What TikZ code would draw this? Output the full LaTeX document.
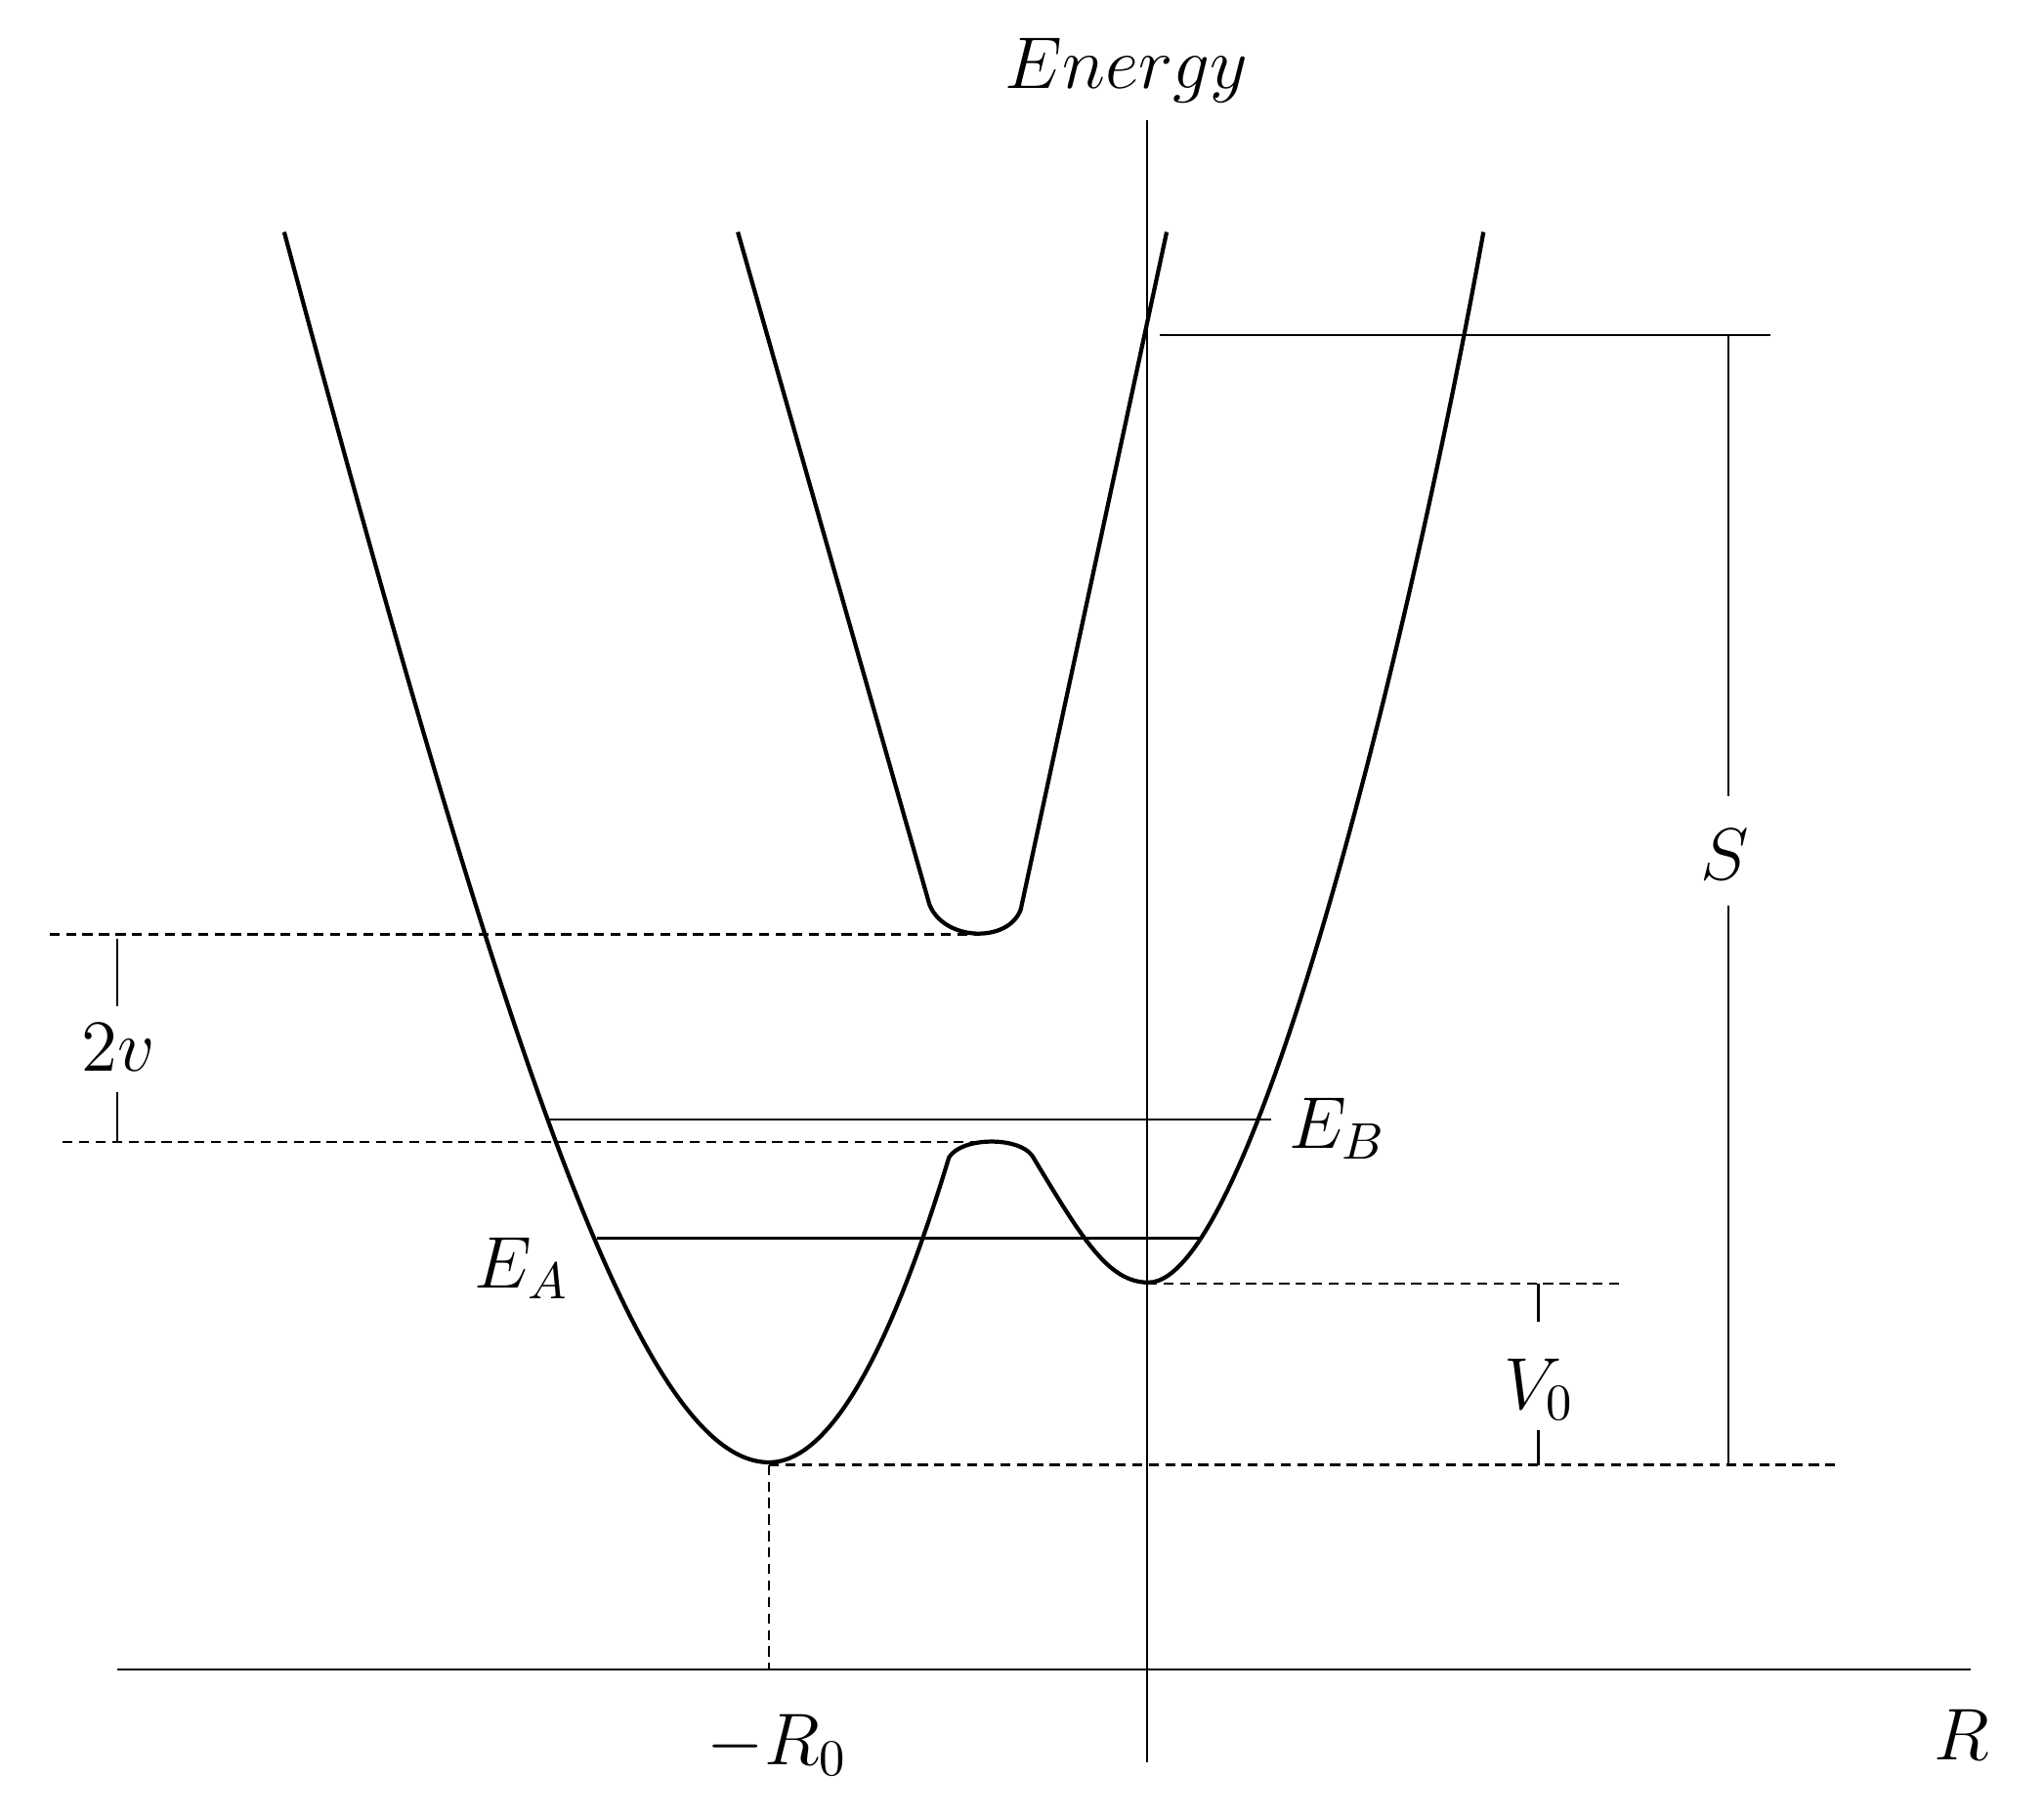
\documentclass[tikz,border=0pt]{standalone}
\usepackage{fix-cm}
\begin{document}
\begin{tikzpicture}[x=0.01cm,y=-0.01cm,
  curve/.style={line width=0.9pt, line join=round},
  thinline/.style={line width=0.5pt},
  dashline/.style={line width=0.5pt, dash pattern=on 2.2pt off 1.4pt},
  lab/.style={font=\fontsize{16}{19}\selectfont, inner sep=0pt, anchor=base}]
\useasboundingbox (0,0) rectangle (1568,1394);

% axes
\draw[thinline] (880,92) -- (880,1352);
\draw[thinline] (90,1281) -- (1512,1281);

% dashed reference levels
\draw[dashline] (38,717) -- (750,717);
\draw[dashline] (48,876) -- (760,876);
\draw[dashline] (880,985) -- (1243,985);
\draw[dashline] (590,1124) -- (1412,1124);
\draw[dashline] (590,1124) -- (590,1281);

% energy levels
\draw[thinline] (420,859) -- (975,859);
\draw[thinline] (458,950) -- (922,950);

% S marker
\draw[thinline] (890,257) -- (1358,257);
\draw[thinline] (1326,257) -- (1326,611);
\draw[thinline] (1326,695) -- (1326,1124);

% 2v marker
\draw[thinline] (90,720) -- (90,772);
\draw[thinline] (90,838) -- (90,876);

% V0 marker
\draw[thinline] (1180,985) -- (1180,1014);
\draw[thinline] (1180,1097) -- (1180,1124);

% lower (double-well) surface
\draw[curve] (218,178) .. controls (385,800) and (490,1122) .. (590,1122)
  .. controls (650,1122) and (700,980) .. (728,888)
  .. controls (738,872) and (782,872) .. (792,887)
  .. controls (830,950) and (850,984) .. (881,984)
  .. controls (960,984) and (1080,500) .. (1138,178);

% upper surface
\draw[curve] (566,178) -- (713,694)
  .. controls (724,722) and (773,724) .. (783,698) -- (895,178);

% labels
\node[lab] (energy) at (864,68) {$Energy$};
\node[lab] (rlab) at (1505,1350) {$R$};
\node[lab] (r0) at (596,1354) {$-R_0$};
\node[lab] (twov) at (91,822) {$2v$};
\node[lab] (slab) at (1323,675) {$S$};
\node[lab] (ea) at (400,988) {$E_A$};
\node[lab] (eb) at (1026,881) {$E_B$};
\node[lab] (v0) at (1181,1081) {$V_0$};
\end{tikzpicture}
\end{document}
